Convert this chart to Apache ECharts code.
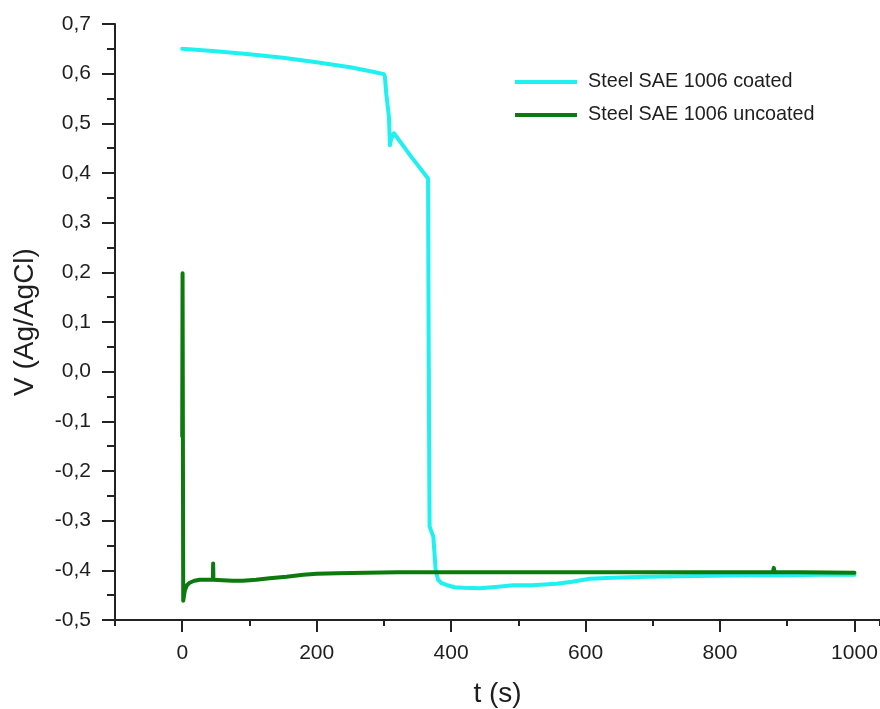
<!DOCTYPE html>
<html>
<head>
<meta charset="utf-8">
<script src="https://cdn.jsdelivr.net/npm/echarts@6/dist/echarts.min.js"></script>
<style>
  html, body { margin: 0; padding: 0; background: #ffffff; }
  #chart { width: 880px; height: 709px; }
</style>
</head>
<body>
<div id="chart"></div>
<script>
// Open-circuit potential vs time for coated and uncoated SAE 1006 steel
const seriesNames = ['Steel SAE 1006 coated', 'Steel SAE 1006 uncoated'];

const coatedT = [0, 50, 100, 150, 200, 250, 280, 300, 301.5, 303.5, 307.5, 309, 311, 315,
  340, 365.7, 366.5, 367.5, 368, 373.5, 377, 380.6, 386, 393, 405, 418, 443, 470, 492,
  520, 557, 580, 606, 640, 690, 740, 789, 850, 900, 950, 1000];
const coatedV = [0.650, 0.645, 0.639, 0.632, 0.623, 0.613, 0.605, 0.599, 0.594, 0.560, 0.513, 0.456, 0.470, 0.480,
  0.434, 0.389, 0.100, -0.200, -0.312, -0.332, -0.399, -0.419, -0.426, -0.4295, -0.434, -0.435, -0.436, -0.433, -0.430,
  -0.430, -0.427, -0.423, -0.417, -0.415, -0.413, -0.412, -0.411, -0.410, -0.410, -0.409, -0.409];

const uncoatedT = [0, 0.5, 1.5, 2.5, 4, 7, 11, 18, 26, 35, 45.6, 45.8, 46, 46.2, 46.4, 60, 75, 90,
  110, 130, 155, 180, 200, 230, 274, 320, 373, 450, 550, 650, 750, 850, 878.5, 880, 881.5, 920, 1000];
const uncoatedV = [-0.130, 0.198, -0.461, -0.452, -0.440, -0.430, -0.425, -0.421, -0.419, -0.419, -0.419, -0.400, -0.386, -0.400, -0.419, -0.420, -0.421, -0.421,
  -0.419, -0.416, -0.413, -0.409, -0.407, -0.406, -0.405, -0.404, -0.404, -0.404, -0.404, -0.404, -0.404, -0.404, -0.404, -0.395, -0.404, -0.404, -0.405];

const xTickLabels = [0, 200, 400, 600, 800, 1000];
const yTickLabels = [-0.5, -0.4, -0.3, -0.2, -0.1, 0, 0.1, 0.2, 0.3, 0.4, 0.5, 0.6, 0.7];

const FONT = '"Liberation Sans", Arial, sans-serif';
const INK = '#1e1e1e';

const zip = (xs, ys) => xs.map((x, i) => [x, ys[i]]);
const fmtComma = v => {
  const r = Math.round(v * 10) / 10;
  return (Math.abs(r) < 1e-9 ? 0 : r).toFixed(1).replace('.', ',');
};

const chart = echarts.init(document.getElementById('chart'), null, { renderer: 'canvas' });

chart.setOption({
  backgroundColor: '#ffffff',
  animation: false,
  grid: { left: 115, right: 0, top: 24, bottom: 89, containLabel: false, outerBoundsMode: 'none' },
  legend: {
    orient: 'vertical',
    left: 510,
    top: 66,
    icon: 'rect',
    itemWidth: 62,
    itemHeight: 4,
    itemGap: 11,
    data: seriesNames,
    textStyle: { fontFamily: FONT, fontSize: 19.8, color: INK, lineHeight: 22, padding: [0, 0, 0, 6] }
  },
  xAxis: [
    {
      type: 'value',
      min: -100,
      max: 1038,
      interval: 100,
      position: 'bottom',
      name: 't (s)',
      nameLocation: 'middle',
      nameGap: 60,
      nameTextStyle: { fontFamily: FONT, fontSize: 28, color: INK },
      splitLine: { show: false },
      axisLine: { show: true, onZero: false, lineStyle: { color: '#222', width: 2 } },
      axisTick: { show: true, length: 6, lineStyle: { color: '#222', width: 2 } },
      axisLabel: {
        customValues: xTickLabels,
        margin: 23,
        fontFamily: FONT, fontSize: 21, color: INK,
        formatter: v => String(v)
      }
    },
    {
      // longer ticks on labelled values
      type: 'value',
      min: -100,
      max: 1038,
      position: 'bottom',
      splitLine: { show: false },
      axisLine: { show: false, onZero: false },
      axisTick: { show: true, customValues: xTickLabels, length: 12, lineStyle: { color: '#222', width: 2 } },
      axisLabel: { show: false }
    }
  ],
  yAxis: {
    type: 'value',
    min: -0.5,
    max: 0.7,
    interval: 0.1,
    name: 'V (Ag/AgCl)',
    nameLocation: 'middle',
    nameGap: 76,
    nameTextStyle: { fontFamily: FONT, fontSize: 28, color: INK },
    splitLine: { show: false },
    axisLine: { show: true, onZero: false, lineStyle: { color: '#222', width: 2 } },
    axisTick: { show: true, length: 13, lineStyle: { color: '#222', width: 2 } },
    minorTick: { show: true, splitNumber: 2, length: 8, lineStyle: { color: '#222', width: 2 } },
    axisLabel: {
      margin: 24,
      fontFamily: FONT, fontSize: 21, color: INK,
      formatter: fmtComma
    }
  },
  series: [
    {
      name: seriesNames[0],
      type: 'line',
      data: zip(coatedT, coatedV),
      showSymbol: false,
      symbol: 'none',
      color: '#1ff0f0',
      lineStyle: { color: '#1ff0f0', width: 4, join: 'round', cap: 'round' },
      z: 2
    },
    {
      name: seriesNames[1],
      type: 'line',
      data: zip(uncoatedT, uncoatedV),
      showSymbol: false,
      symbol: 'none',
      color: '#0c7a0c',
      lineStyle: { color: '#0c7a0c', width: 4, join: 'round', cap: 'round' },
      z: 3
    }
  ]
});
</script>
</body>
</html>
